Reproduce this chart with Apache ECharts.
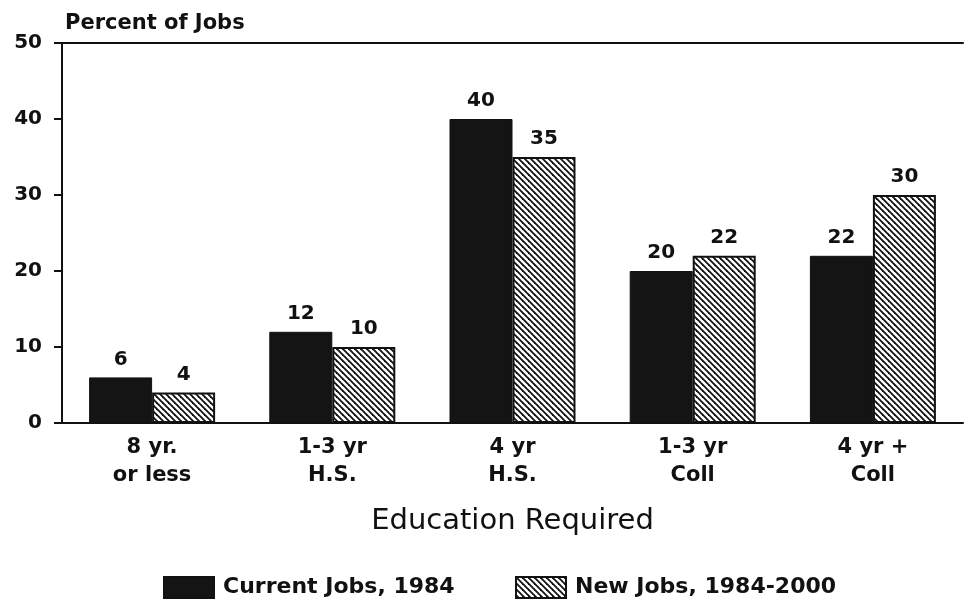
<!DOCTYPE html>
<html>
<head>
<meta charset="utf-8">
<script src="https://cdn.jsdelivr.net/npm/echarts@6/dist/echarts.min.js"></script>
<style>
html,body{margin:0;padding:0;background:#fff;}
#chart{width:964px;height:606px;}
</style>
</head>
<body>
<div id="chart"></div>
<script>
const categories = ['8 yr.\nor less', '1-3 yr\nH.S.', '4 yr\nH.S.', '1-3 yr\nColl', '4 yr +\nColl'];
const currentJobs = [6, 12, 40, 20, 22];
const newJobs = [4, 10, 35, 22, 30];
const seriesNames = ['Current Jobs, 1984', 'New Jobs, 1984-2000'];
const yTicks = [0, 10, 20, 30, 40, 50];

const FONT = '"DejaVu Sans", sans-serif';
const INK = '#111';

function hatch() {
  const s = 6;
  const c = document.createElement('canvas');
  c.width = s; c.height = s;
  const g = c.getContext('2d');
  g.fillStyle = '#fff';
  g.fillRect(0, 0, s, s);
  g.strokeStyle = '#111';
  g.lineWidth = 1.8;
  g.lineCap = 'square';
  [-s, 0, s].forEach(function (x0) {
    g.beginPath();
    g.moveTo(x0 - 2, -2);
    g.lineTo(x0 + s + 2, s + 2);
    g.stroke();
  });
  return c;
}
const hatchPattern = { image: hatch(), repeat: 'repeat' };

const chart = echarts.init(document.getElementById('chart'), null, { renderer: 'canvas' });
const labelStyle = {
  show: true, position: 'top', distance: 8,
  color: INK, fontFamily: FONT, fontWeight: 'bold', fontSize: 20
};
const legendText = { color: INK, fontFamily: FONT, fontWeight: 'bold', fontSize: 22, padding: [0, 0, 0, 4] };
chart.setOption({
  animation: false,
  backgroundColor: '#fff',
  title: {
    text: 'Percent of Jobs', left: 60, top: 8,
    textStyle: { color: INK, fontFamily: FONT, fontWeight: 'bold', fontSize: 21 }
  },
  grid: { left: 62, right: 1, top: 43, bottom: 183, containLabel: false },
  legend: [{
    left: 158, top: 571, itemWidth: 50, itemHeight: 21, icon: 'rect',
    textStyle: legendText, data: [seriesNames[0]]
  }, {
    left: 510, top: 571, itemWidth: 50, itemHeight: 21, icon: 'rect',
    textStyle: legendText, data: [seriesNames[1]]
  }],
  xAxis: [{
    type: 'category', data: categories, position: 'bottom',
    axisLine: { lineStyle: { color: INK, width: 2 } },
    axisTick: { show: false },
    axisLabel: { color: INK, fontFamily: FONT, fontWeight: 'bold', fontSize: 21, lineHeight: 28, margin: 11 },
    name: 'Education Required', nameLocation: 'middle', nameGap: 84,
    nameTextStyle: { color: INK, fontFamily: FONT, fontSize: 29 }
  }, {
    type: 'category', data: categories, position: 'top',
    axisLine: { show: true, lineStyle: { color: INK, width: 2 } },
    axisTick: { show: false }, axisLabel: { show: false }
  }],
  yAxis: {
    type: 'value', min: yTicks[0], max: yTicks[yTicks.length - 1], interval: 10,
    axisLine: { show: true, lineStyle: { color: INK, width: 2 } },
    axisTick: { show: true, length: 8, lineStyle: { color: INK, width: 2 } },
    axisLabel: { color: INK, fontFamily: FONT, fontWeight: 'bold', fontSize: 20, margin: 20 },
    splitLine: { show: false }
  },
  series: [{
    name: seriesNames[0], type: 'bar', data: currentJobs, xAxisIndex: 0,
    barWidth: 63, barGap: '0%',
    itemStyle: { color: '#141414', borderColor: INK, borderWidth: 1 },
    label: labelStyle
  }, {
    name: seriesNames[1], type: 'bar', data: newJobs, xAxisIndex: 0,
    barWidth: 63, barGap: '0%',
    itemStyle: { color: hatchPattern, borderColor: INK, borderWidth: 2 },
    label: labelStyle
  }]
});
</script>
</body>
</html>
